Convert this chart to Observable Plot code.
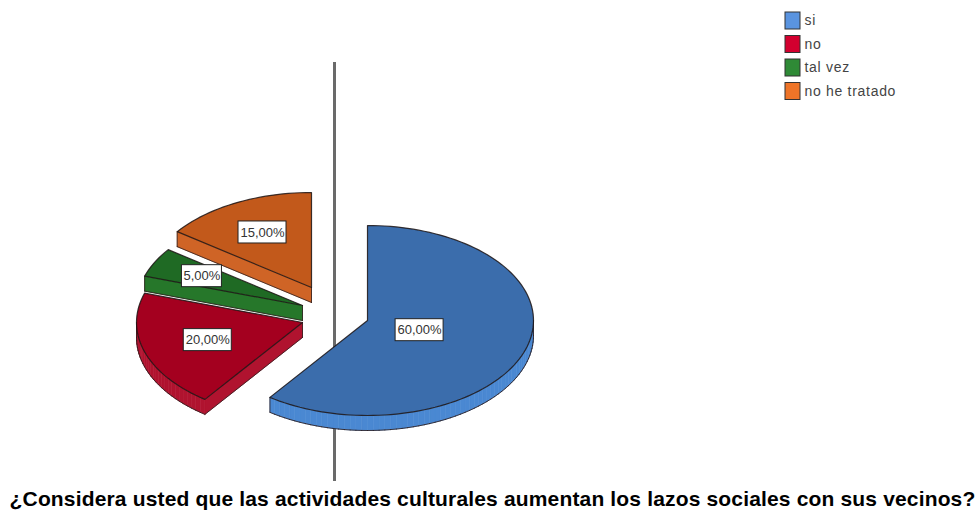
<!DOCTYPE html>
<html><head><meta charset="utf-8">
<script src="https://cdn.jsdelivr.net/npm/d3@7"></script>
<script src="https://cdn.jsdelivr.net/npm/@observablehq/plot@0.6"></script>
<style>html,body{margin:0;padding:0;background:#fff}svg{display:block}</style>
</head><body><div id="c"></div>
<script>
const categories = ["si", "no", "tal vez", "no he tratado"];
const shares = [60, 20, 5, 15];
const title = "¿Considera usted que las actividades culturales aumentan los lazos sociales con sus vecinos?";
const topColors = ["#3b6dac", "#a4001f", "#1f6a24", "#c2591b"];
const sideColors = ["#4a88d2", "#b0132f", "#26772a", "#cf6426"];
const legendColors = ["#5a94e0", "#d3002f", "#2f8a36", "#ee7428"];
const centersX = [367, 302, 302, 311];
const centersY = [320, 322, 305, 287];
const labelReach = [0.33, 0.6, 0.68, 0.65];
const rx = 166, ry = 95, depth = 15;

let cum = 0;
const wedges = shares.map((s, i) => {
  const a0 = cum / 100 * 2 * Math.PI;
  cum += s;
  const a1 = cum / 100 * 2 * Math.PI;
  const cx = centersX[i], cy = centersY[i];
  const pts = [[cx, cy]];
  const n = Math.max(3, Math.ceil(s * 1.8));
  for (let k = 0; k <= n; k++) {
    const a = a0 + (a1 - a0) * k / n;
    pts.push([cx + rx * Math.sin(a), cy - ry * Math.cos(a)]);
  }
  const mid = (a0 + a1) / 2;
  return {
    i, pts, a0, a1,
    lx: cx + labelReach[i] * rx * Math.sin(mid),
    ly: cy - labelReach[i] * ry * Math.cos(mid),
    label: s.toFixed(2).replace(".", ",") + "%"
  };
});

const marks = [];
marks.push(Plot.ruleX([334], {y1: 62, y2: 481, stroke: "#6a6a6a", strokeWidth: 3}));

wedges.forEach(w => {
  const closed = [...w.pts, w.pts[0]];
  const quads = [], edges = [];
  const m = closed.length - 1;
  for (let k = 0; k < m; k++) {
    const [p, q] = [closed[k], closed[k + 1]];
    if (q[0] >= p[0]) continue; // only downward-facing edges can be seen
    [[p[0], p[1]], [q[0], q[1]], [q[0], q[1] + depth], [p[0], p[1] + depth], [p[0], p[1]]]
      .forEach(c => quads.push({x: c[0], y: c[1], z: k}));
    [[p[0], p[1] + depth], [q[0], q[1] + depth]].forEach(c => edges.push({x: c[0], y: c[1], z: k}));
    const prev = closed[(k - 1 + m) % m];
    const next = closed[(k + 2) % m];
    if (p[0] >= prev[0]) [[p[0], p[1]], [p[0], p[1] + depth]].forEach(c => edges.push({x: c[0], y: c[1], z: "s" + k}));
    if (next[0] >= q[0]) [[q[0], q[1]], [q[0], q[1] + depth]].forEach(c => edges.push({x: c[0], y: c[1], z: "e" + k}));
  }
  marks.push(Plot.line(quads, {x: "x", y: "y", z: "z", fill: sideColors[w.i], stroke: sideColors[w.i], strokeWidth: 0.6, curve: "linear"}));
  marks.push(Plot.line(edges, {x: "x", y: "y", z: "z", stroke: "#2a1a1a", strokeWidth: 1, strokeOpacity: 0.8, curve: "linear"}));
  marks.push(Plot.line(closed.map(p => ({x: p[0], y: p[1]})), {x: "x", y: "y", fill: topColors[w.i], stroke: "#1c1414", strokeWidth: 1.2, strokeOpacity: 0.85, curve: "linear"}));
});

const labelBoxes = wedges.map(w => ({x1: w.lx - (w.label.length > 5 ? 24 : 20), x2: w.lx + (w.label.length > 5 ? 24 : 20), y1: w.ly - 11, y2: w.ly + 11}));
marks.push(Plot.rect(labelBoxes, {x1: "x1", x2: "x2", y1: "y1", y2: "y2", fill: "#fff", stroke: "#222", strokeWidth: 1}));
marks.push(Plot.text(wedges, {x: "lx", y: "ly", text: "label", fontSize: 13, fill: "#333", fontFamily: "Liberation Sans, Arial, sans-serif"}));

const legendRows = categories.map((c, i) => ({c, i, y1: 12 + i * 23.5, y2: 29 + i * 23.5, ym: 20.5 + i * 23.5}));
marks.push(Plot.rect(legendRows, {x1: () => 785, x2: () => 800, y1: "y1", y2: "y2", fill: d => legendColors[d.i], stroke: "#333", strokeWidth: 1}));
marks.push(Plot.text(legendRows, {x: () => 804, y: "ym", text: "c", textAnchor: "start", fontSize: 14, fill: "#444", fontFamily: "Liberation Sans, Arial, sans-serif"}));

marks.push(Plot.text([title], {x: () => 492, y: () => 499, text: d => d, fontSize: 21, fontWeight: "bold", fill: "#000", fontFamily: "Liberation Sans, Arial, sans-serif"}));

const plot = Plot.plot({
  width: 979, height: 510,
  margin: 0, marginTop: 0, marginRight: 0, marginBottom: 0, marginLeft: 0,
  x: {type: "linear", domain: [0, 979], range: [0, 979], axis: null},
  y: {type: "linear", domain: [0, 510], range: [0, 510], axis: null},
  color: {type: "identity"},
  style: {background: "#fff"},
  marks
});
d3.select(plot).selectAll("text").each(function () {
  const t = this.textContent;
  if (t === title) this.setAttribute("letter-spacing", "0.16");
  else if (categories.includes(t)) this.setAttribute("letter-spacing", "0.7");
});
document.getElementById("c").append(plot);
</script></body></html>
